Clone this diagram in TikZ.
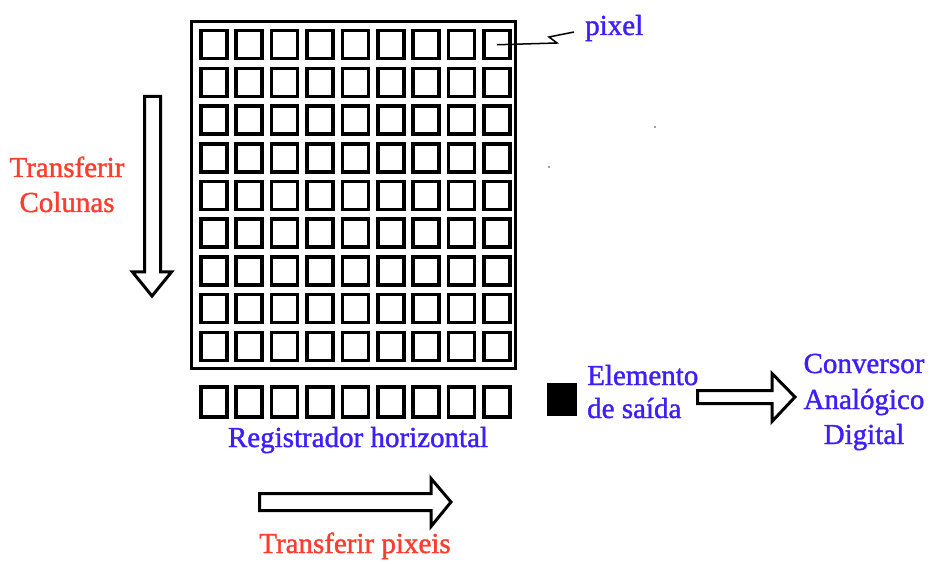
\documentclass[tikz,border=0pt]{standalone}
\usepackage{fontspec}
\setmainfont{Liberation Serif}
\newfontfamily\heavyserif[FakeBold=1.3]{Liberation Serif}
\definecolor{lblue}{RGB}{60,30,255}
\definecolor{lred}{RGB}{255,60,45}
\begin{document}
\begin{tikzpicture}[x=1pt,y=-1pt,
  cell/.style={draw=black,line width=3.5pt,minimum width=26pt,minimum height=28pt,inner sep=0pt,anchor=north west},
  frame/.style={draw=black,line width=3pt},
  blockarrow/.style={draw=black,line width=3pt,fill=white,line join=miter},
  bluetxt/.style={text=lblue,font=\heavyserif\fontsize{29}{35}\selectfont,inner sep=0pt,anchor=base},
  redtxt/.style={text=lred,font=\heavyserif\fontsize{29}{35}\selectfont,inner sep=0pt,anchor=base}]
\useasboundingbox (0,0) rectangle (930,564);
\fill[white] (0,0) rectangle (930,564);
% frame of the CCD array
\draw[frame] (191.5,21.5) rectangle (515.5,368.5);
% pixel cells
\foreach \i in {0,...,8}{
  \foreach \j in {0,...,8}{
    \node[cell] (c-\i-\j) at ({199+35.4*\i},{29+37.7*\j}) {};
  }
}
% horizontal register
\foreach \i in {0,...,8}{
  \node[cell,minimum height=30pt] (r-\i) at ({199+35.4*\i},385) {};
}
% output element
\node[fill=black,minimum width=30pt,minimum height=33pt,inner sep=0pt,anchor=north west] (out) at (547,383) {};
% labels
\node[bluetxt,anchor=base west] (pix) at (585,35) {pixel};
\draw[line width=1.5pt] (c-8-0.center) -- (557,43) -- (549,37) -- (574,32);
\node[bluetxt] (reg) at (358,447) {Registrador horizontal};
\node[bluetxt,anchor=base west] (el1) at (587,385) {Elemento};
\node[bluetxt,anchor=base west] (el2) at (587,418) {de saída};
\node[bluetxt] (cv1) at (864,373) {Conversor};
\node[bluetxt] (cv2) at (864,409) {Analógico};
\node[bluetxt] (cv3) at (864,444) {Digital};
\node[redtxt] (tc1) at (67,177) {Transferir};
\node[redtxt] (tc2) at (67,212) {Colunas};
\node[redtxt] (tp) at (355,553) {Transferir pixeis};
% block arrows
\draw[blockarrow] (144.5,96.5) -- (160.5,96.5) -- (160.5,272) -- (171.5,272) -- (152,296) -- (132.5,272) -- (144.5,272) -- cycle;
\draw[blockarrow] (697.5,390.5) -- (772,390.5) -- (772,373.5) -- (795,397) -- (772,421.5) -- (772,403.5) -- (697.5,403.5) -- cycle;
\draw[blockarrow] (259.5,493.5) -- (431,493.5) -- (431,478.5) -- (451,502) -- (431,526.5) -- (431,510.5) -- (259.5,510.5) -- cycle;
% stray dots
\fill[gray] (655,127) circle (1.2);
\fill[gray] (549,167) circle (1.2);
\end{tikzpicture}
\end{document}
